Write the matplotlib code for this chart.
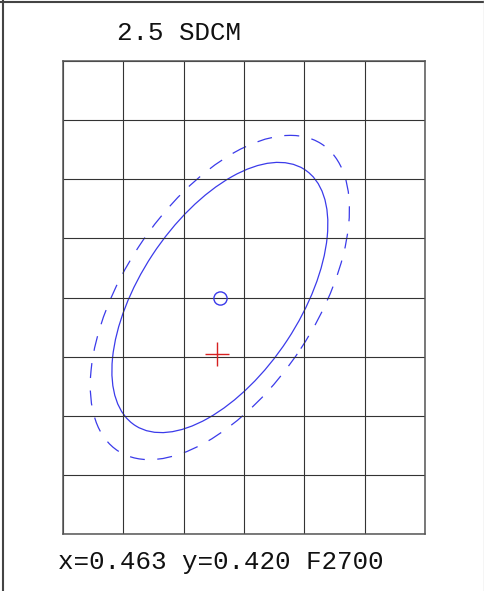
import matplotlib
matplotlib.use('Agg')
import matplotlib.pyplot as plt
from matplotlib.patches import Ellipse
from matplotlib.lines import Line2D
import numpy as np

# F2700 MacAdam ellipse (1 step) and measured point
centro = (0.463, 0.420)
medido = (0.4629, 0.4176)
eixo_a = 0.00258
eixo_b = 0.00133
angulo = 57.2
passos = [2.5, 3.0]
estilos = ['-', (0, (12, 10))]

# grid
x_linhas = [0.4565, 0.4590, 0.4615, 0.4640, 0.4665, 0.4690, 0.4715]
y_linhas = [0.410, 0.4125, 0.415, 0.4175, 0.420, 0.4225, 0.425, 0.4275, 0.430]

titulo = '2.5 SDCM'
rodape = 'x=0.463 y=0.420 F2700'

fig = plt.figure(figsize=(4.85, 5.91), dpi=100)
ax = fig.add_axes([63/485, 1 - 534/591, 362/485, 473/591])
ax.set_xlim(x_linhas[0], x_linhas[-1])
ax.set_ylim(y_linhas[0], y_linhas[-1])
ax.set_xticks(x_linhas)
ax.set_yticks(y_linhas)
ax.tick_params(length=0, labelbottom=False, labelleft=False)
ax.grid(True, color='#333333', linewidth=0.8)
for s in ax.spines.values():
    s.set_color('#555555')
    s.set_linewidth(1.1)

azul = '#3b3bea'
for p, ls in zip(passos, estilos):
    e = Ellipse(centro, 2 * eixo_a * p, 2 * eixo_b * p, angle=angulo,
                fill=False, edgecolor=azul, linewidth=0.9, linestyle=ls)
    ax.add_patch(e)

ax.plot([centro[0]], [centro[1]], marker='o', ms=9.5, mfc='none', mec=azul, mew=1.0)
ax.plot([medido[0]], [medido[1]], marker='+', ms=17, mec='#d62020', mew=1.0)

fig.text(117/485, 1 - 33/591, titulo, family='Liberation Mono', fontsize=18.6,
         ha='left', va='center', color='#111111')
fig.text(58/485, 1 - 562/591, rodape, family='Liberation Mono', fontsize=18.6,
         ha='left', va='center', color='#111111')

# moldura
fig.add_artist(Line2D([0, 1], [1 - 1.5/591, 1 - 1.5/591], color='#444444', lw=1.5))
fig.add_artist(Line2D([3.5/485, 3.5/485], [0, 1], color='#444444', lw=1.5))
fig.add_artist(Line2D([484/485, 484/485], [0, 1], color='#cccccc', lw=1.0))

fig.savefig('out.png', dpi=100)
